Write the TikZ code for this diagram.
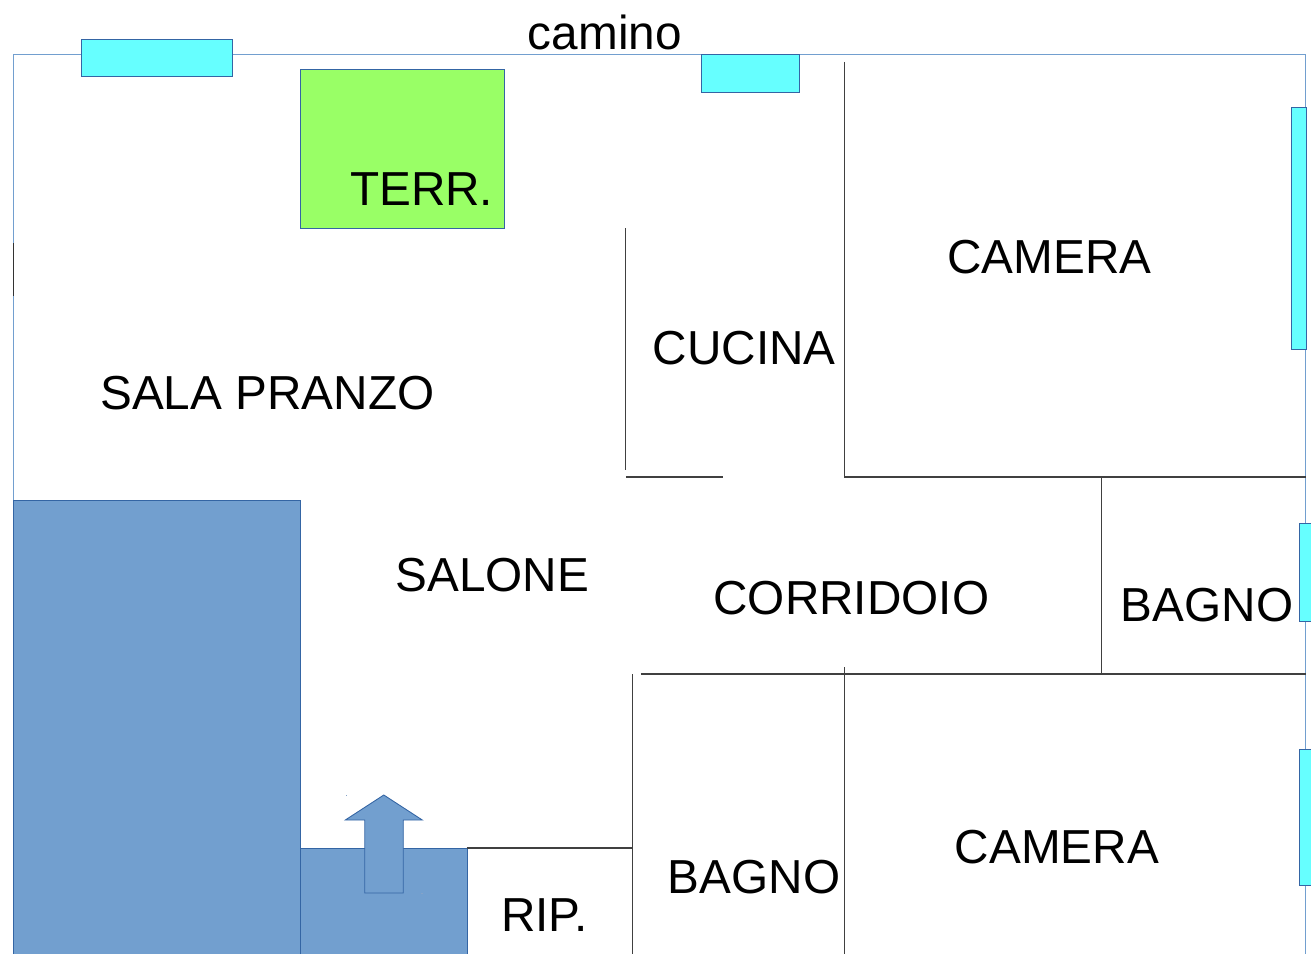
\documentclass[tikz,border=0pt]{standalone}
\usepackage{fontspec}
\setmainfont{Liberation Sans}
\definecolor{wallblue}{HTML}{729FCF}
\definecolor{edgeblue}{HTML}{3465A4}
\definecolor{glass}{HTML}{66FFFF}
\definecolor{terrace}{HTML}{99FF66}
\tikzset{
  wall/.style={draw=black!75, line width=0.6pt},
  outer/.style={draw=wallblue, line width=0.5pt},
  window/.style={draw=edgeblue, fill=glass, line width=0.5pt},
  block/.style={draw=edgeblue, fill=wallblue, line width=0.5pt},
  room/.style={anchor=base, inner sep=0pt, font=\fontsize{27.15pt}{30pt}\selectfont},
}

\begin{document}
\begin{tikzpicture}[x=0.02cm, y=-0.02cm]
    \useasboundingbox (0.2, 0) rectangle (1311.2, 953);

    \draw[outer] (13.5, 500) -- (13.5, 54) -- (1306, 54) -- (1306, 955);
    \draw[draw=black!80, line width=0.7pt] (13.5, 243) -- (13.5, 296);

    \draw[block] (13.5, 955) -- (13.5, 500) -- (300.5, 500) -- (300.5, 955);
    \draw[block] (300.5, 955) -- (300.5, 848) -- (467.5, 848) -- (467.5, 955);
    \draw[block] (384, 795) -- (422.5, 820) -- (403.5, 820) -- (403.5, 893) -- (365, 893) -- (365, 820) -- (345.5, 820) -- cycle;
    \fill[edgeblue!60] (346, 794.5) rectangle (347, 795.5);
    \fill[edgeblue!60] (421.5, 893) rectangle (423, 894);

    \draw[window] (81.5, 39) rectangle (232.5, 76);
    \draw[window] (701.5, 54) rectangle (799.5, 92);
    \draw[window] (1291.5, 107) rectangle (1306.5, 349);
    \draw[window] (1299.5, 523) rectangle (1313, 621);
    \draw[window] (1299.5, 749) rectangle (1313, 885);
    \draw[draw=edgeblue, fill=terrace, line width=0.5pt] (300.5, 69) rectangle (504.5, 228);

    \draw[wall] (845, 62) -- (845, 477) -- (1306, 477);
    \draw[wall] (626, 228) -- (626, 470);
    \draw[wall] (626, 477) -- (723, 477);
    \draw[wall] (1102, 477) -- (1102, 674);
    \draw[wall] (641, 674) -- (1306, 674);
    \draw[wall] (633, 674) -- (633, 955);
    \draw[wall] (845, 667) -- (845, 955);
    \draw[wall] (467, 848) -- (633, 848);

    \node[room] (camino) at (605, 50) {camino};
    \node[room] (terr) at (421.8, 205.3) {TERR.};
    \node[room] (pranzo) at (267.5, 409.3) {SALA PRANZO};
    \node[room] (cucina) at (744.5, 364.5) {CUCINA};
    \node[room] (camera1) at (1049.5, 273.5) {CAMERA};
    \node[room] (salone) at (492.5, 591.3) {SALONE};
    \node[room] (corridoio) at (851.5, 614.3) {CORRIDOIO};
    \node[room] (bagno1) at (1207.2, 621.5) {BAGNO};
    \node[room] (bagno2) at (754.2, 893.5) {BAGNO};
    \node[room] (camera2) at (1057.2, 863.5) {CAMERA};
    \node[room] (rip) at (544.8, 931.5) {RIP.};
  \end{tikzpicture}
\end{document}
